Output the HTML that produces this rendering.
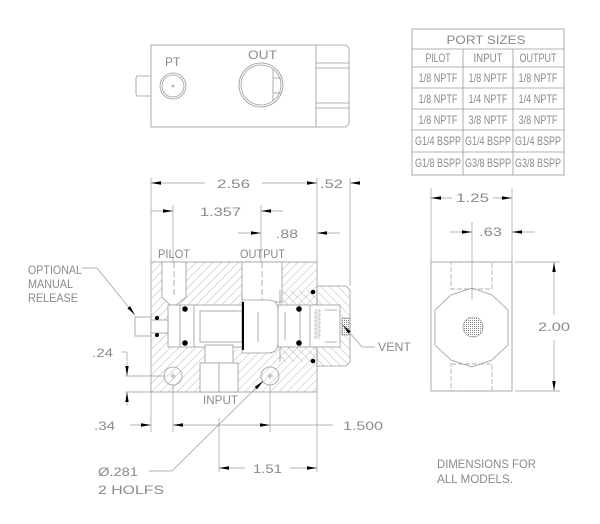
<!DOCTYPE html>
<html><head><meta charset="utf-8"><style>
html,body{margin:0;padding:0;background:#fff;}
svg{display:block;}
text{font-family:"Liberation Sans",sans-serif;fill:#8a8a8a;font-size:12px;}
</style></head><body>
<svg width="600" height="524" viewBox="0 0 600 524" xmlns="http://www.w3.org/2000/svg">
<defs>
<pattern id="h1" width="6" height="6" patternUnits="userSpaceOnUse" patternTransform="rotate(45)">
<line x1="0" y1="0" x2="0" y2="6" stroke="#9a9a9a" stroke-width="0.7"/></pattern>
<pattern id="h2" width="6" height="6" patternUnits="userSpaceOnUse" patternTransform="rotate(-45)">
<line x1="0" y1="0" x2="0" y2="6" stroke="#9a9a9a" stroke-width="0.7"/></pattern>
<pattern id="mesh" width="2" height="2" patternUnits="userSpaceOnUse">
<rect width="1" height="1" fill="#888"/></pattern>
<marker id="a" viewBox="0 0 10 4" refX="10" refY="2" markerWidth="11" markerHeight="4" markerUnits="userSpaceOnUse" orient="auto-start-reverse"><path d="M0,0.3 L10,2 L0,3.7Z" fill="#000"/></marker>
</defs>
<g fill="none" stroke="#9a9a9a" stroke-width="0.8">
<rect x="151" y="45" width="165" height="82"/>
<path d="M316,45 H346 L349,48 V124 L346,127 H316"/>
<line x1="316" y1="63" x2="349" y2="63"/><line x1="316" y1="68" x2="349" y2="68"/>
<line x1="316" y1="103" x2="349" y2="103"/><line x1="316" y1="108" x2="349" y2="108"/>
<path d="M151,76 H137 L136,78 V94 L137,96 H151"/>
<circle cx="173" cy="86" r="13"/><circle cx="173" cy="86" r="11"/><circle cx="173" cy="86" r="1"/>
<circle cx="261" cy="85" r="22"/><circle cx="261" cy="85" r="20"/>
<line x1="273" y1="69" x2="273" y2="101"/><line x1="273" y1="78" x2="281" y2="78"/><line x1="273" y1="93" x2="281" y2="93"/>
<rect x="412" y="29" width="152" height="146"/>
<line x1="412" y1="49" x2="564" y2="49"/><line x1="412" y1="67" x2="564" y2="67"/>
<line x1="412" y1="88" x2="564" y2="88"/><line x1="412" y1="109" x2="564" y2="109"/>
<line x1="412" y1="130" x2="564" y2="130"/><line x1="412" y1="152" x2="564" y2="152"/>
<line x1="463" y1="49" x2="463" y2="175"/><line x1="513" y1="49" x2="513" y2="175"/>
</g>
<g font-size="8" text-anchor="middle" lengthAdjust="spacingAndGlyphs">
<text x="486" y="44" font-size="11" textLength="79" lengthAdjust="spacingAndGlyphs">PORT SIZES</text>
<text x="438" y="62" textLength="25" lengthAdjust="spacingAndGlyphs">PILOT</text><text x="488" y="62" textLength="29" lengthAdjust="spacingAndGlyphs">INPUT</text><text x="538" y="62" textLength="37" lengthAdjust="spacingAndGlyphs">OUTPUT</text>
<text x="438" y="82" textLength="39" lengthAdjust="spacingAndGlyphs">1/8 NPTF</text><text x="488" y="82" textLength="39" lengthAdjust="spacingAndGlyphs">1/8 NPTF</text><text x="538" y="82" textLength="39" lengthAdjust="spacingAndGlyphs">1/8 NPTF</text>
<text x="438" y="103" textLength="39" lengthAdjust="spacingAndGlyphs">1/8 NPTF</text><text x="488" y="103" textLength="39" lengthAdjust="spacingAndGlyphs">1/4 NPTF</text><text x="538" y="103" textLength="39" lengthAdjust="spacingAndGlyphs">1/4 NPTF</text>
<text x="438" y="124" textLength="39" lengthAdjust="spacingAndGlyphs">1/8 NPTF</text><text x="488" y="124" textLength="39" lengthAdjust="spacingAndGlyphs">3/8 NPTF</text><text x="538" y="124" textLength="39" lengthAdjust="spacingAndGlyphs">3/8 NPTF</text>
<text x="438" y="145" textLength="46" lengthAdjust="spacingAndGlyphs">G1/4 BSPP</text><text x="488" y="145" textLength="46" lengthAdjust="spacingAndGlyphs">G1/4 BSPP</text><text x="538" y="145" textLength="46" lengthAdjust="spacingAndGlyphs">G1/4 BSPP</text>
<text x="438" y="167" textLength="46" lengthAdjust="spacingAndGlyphs">G1/8 BSPP</text><text x="488" y="167" textLength="46" lengthAdjust="spacingAndGlyphs">G3/8 BSPP</text><text x="538" y="167" textLength="46" lengthAdjust="spacingAndGlyphs">G3/8 BSPP</text>
</g>
<text x="165" y="66">PT</text><text x="248" y="59" textLength="29" lengthAdjust="spacingAndGlyphs">OUT</text>

<rect x="151" y="262" width="166" height="130" fill="url(#h1)" stroke="#9a9a9a" stroke-width="0.8"/>
<path d="M317,286 H346 L350,290 V362 L346,366 H317Z" fill="url(#h2)" stroke="#9a9a9a" stroke-width="0.8"/>
<path d="M280,290 H317 V305 H280Z M280,347 H317 V362 H280Z" fill="url(#h2)" stroke="none"/>
<g fill="#fff" stroke="#9a9a9a" stroke-width="0.8">
<path d="M162,262 H186 V297 L176,305 H170 L162,297Z"/>
<rect x="168" y="305" width="75" height="42"/>
<rect x="242" y="262" width="40" height="40"/>
<path d="M242,300 H268 Q278,300 278,310 V342 Q278,353 268,353 H242Z"/>
<rect x="278" y="305" width="62" height="42"/>
<rect x="205" y="345" width="28" height="20"/>
<rect x="200" y="363" width="38" height="29"/>
<rect x="135" y="317" width="16" height="19"/>
<rect x="151" y="320" width="17" height="13"/>
</g>
<g fill="none" stroke="#9a9a9a" stroke-width="0.8">
<line x1="174" y1="262" x2="174" y2="297" stroke-dasharray="6 3"/>
<line x1="262" y1="262" x2="262" y2="300" stroke-dasharray="6 3"/>
<line x1="219" y1="363" x2="219" y2="392"/>
<line x1="180" y1="305" x2="180" y2="347"/><line x1="194" y1="305" x2="194" y2="347"/>
<rect x="200" y="311" width="42" height="31"/>
<line x1="258" y1="312" x2="258" y2="342"/>
<line x1="300" y1="305" x2="300" y2="347"/><line x1="310" y1="305" x2="310" y2="347"/>
<path d="M315,310 h5 v2 h-5 v2 h5 v2 h-5 v2 h5 v2 h-5 v2 h5 v2 h-5 v2 h5 v2 h-5 v2 h5 v2 h-5 v2 h5 v2 h-5 v2 h5" stroke-width="0.6"/>
<path d="M325,310 h12 M325,342 h12"/>
<line x1="285" y1="312" x2="285" y2="340"/>
<line x1="280" y1="290" x2="280" y2="305"/><line x1="280" y1="347" x2="280" y2="362"/>
<circle cx="173" cy="376" r="9"/><circle cx="270" cy="376" r="9"/>
<line x1="170" y1="376" x2="176" y2="376"/><line x1="173" y1="373" x2="173" y2="379"/>
<line x1="267" y1="376" x2="273" y2="376"/><line x1="270" y1="373" x2="270" y2="379"/>
</g>
<line x1="243" y1="302" x2="243" y2="350" stroke="#000" stroke-width="2"/>
<rect x="342" y="318" width="8" height="17" fill="url(#mesh)" stroke="#888" stroke-width="0.6"/>
<g fill="#000">
<circle cx="185" cy="309" r="2.8"/><circle cx="185" cy="343" r="2.8"/>
<circle cx="299" cy="309" r="2.8"/><circle cx="299" cy="343" r="2.8"/>
<circle cx="313" cy="292" r="2.3"/><circle cx="313" cy="361" r="2.3"/>
<circle cx="157" cy="318" r="2"/><circle cx="157" cy="335" r="2"/>
</g>

<g fill="none" stroke="#9a9a9a" stroke-width="0.7">
<line x1="151" y1="178" x2="151" y2="262"/><line x1="317" y1="178" x2="317" y2="262"/>
<line x1="350" y1="178" x2="350" y2="286"/>
<line x1="173" y1="205" x2="173" y2="262"/><line x1="261" y1="205" x2="261" y2="262"/>
<line x1="151" y1="392" x2="151" y2="432"/>
<line x1="173" y1="385" x2="173" y2="432"/><line x1="270" y1="385" x2="270" y2="432"/>
<line x1="317" y1="392" x2="317" y2="472"/><line x1="219" y1="418" x2="219" y2="472"/>
<line x1="125" y1="376" x2="165" y2="376"/><line x1="125" y1="392" x2="151" y2="392"/>
<line x1="127" y1="352" x2="127" y2="361"/><line x1="122" y1="352" x2="127" y2="352"/>
</g>
<g stroke="#9a9a9a" stroke-width="0.7" fill="none">
<line x1="205" y1="183" x2="151" y2="183" marker-end="url(#a)"/>
<line x1="262" y1="183" x2="317" y2="183" marker-end="url(#a)"/>
<line x1="360" y1="183" x2="350" y2="183" marker-end="url(#a)"/>
<line x1="151" y1="211" x2="173" y2="211" marker-end="url(#a)"/>
<line x1="283" y1="211" x2="261" y2="211" marker-end="url(#a)"/>
<line x1="238" y1="233" x2="261" y2="233" marker-end="url(#a)"/>
<line x1="340" y1="233" x2="317" y2="233" marker-end="url(#a)"/>
<line x1="127" y1="362" x2="127" y2="376" marker-end="url(#a)"/>
<line x1="127" y1="406" x2="127" y2="392" marker-end="url(#a)"/>
<line x1="130" y1="425" x2="151" y2="425" marker-end="url(#a)"/>
<line x1="195" y1="425" x2="173" y2="425" marker-end="url(#a)"/>
<line x1="195" y1="425" x2="270" y2="425" marker-end="url(#a)"/>
<line x1="270" y1="425" x2="333" y2="425"/>
<line x1="245" y1="468" x2="219" y2="468" marker-end="url(#a)"/>
<line x1="290" y1="468" x2="317" y2="468" marker-end="url(#a)"/>
<polyline points="149,471 172,471 263,381" marker-end="url(#a)"/>
<polyline points="82,268 97,268 135,315" marker-end="url(#a)"/>
<polyline points="375,347 362,347 343,325" marker-end="url(#a)"/>
<line x1="431" y1="188" x2="431" y2="262"/><line x1="512" y1="188" x2="512" y2="262"/>
<line x1="472" y1="222" x2="472" y2="300"/>
<line x1="452" y1="198" x2="431" y2="198" marker-end="url(#a)"/>
<line x1="493" y1="198" x2="512" y2="198" marker-end="url(#a)"/>
<line x1="450" y1="232" x2="472" y2="232" marker-end="url(#a)"/>
<line x1="535" y1="232" x2="512" y2="232" marker-end="url(#a)"/>
<line x1="515" y1="262" x2="560" y2="262"/><line x1="515" y1="391" x2="560" y2="391"/>
<line x1="554" y1="315" x2="554" y2="262" marker-end="url(#a)"/>
<line x1="554" y1="340" x2="554" y2="391" marker-end="url(#a)"/>
<rect x="431" y="262" width="81" height="129" stroke-width="0.8"/>
<polygon points="451,295 472,288 492,295 508,310 508,345 492,360 472,367 451,360 435,345 435,310" stroke-width="0.8"/>
<rect x="451" y="262" width="41" height="27" stroke-dasharray="5 2"/>
<rect x="451" y="364" width="41" height="27" stroke-dasharray="5 2"/>
</g>
<circle cx="473" cy="327" r="10" fill="url(#mesh)" stroke="#888" stroke-width="0.6"/>

<g font-size="13">
<text x="217" y="188" textLength="33" lengthAdjust="spacingAndGlyphs">2.56</text>
<text x="320" y="188" textLength="23" lengthAdjust="spacingAndGlyphs">.52</text>
<text x="200" y="216" textLength="41" lengthAdjust="spacingAndGlyphs">1.357</text>
<text x="276" y="238" textLength="22" lengthAdjust="spacingAndGlyphs">.88</text>
<text x="92" y="357" textLength="21" lengthAdjust="spacingAndGlyphs">.24</text>
<text x="94" y="430" textLength="21" lengthAdjust="spacingAndGlyphs">.34</text>
<text x="343" y="430" textLength="40" lengthAdjust="spacingAndGlyphs">1.500</text>
<text x="253" y="473" textLength="29" lengthAdjust="spacingAndGlyphs">1.51</text>
<text x="456" y="202" textLength="33" lengthAdjust="spacingAndGlyphs">1.25</text>
<text x="479" y="236" textLength="23" lengthAdjust="spacingAndGlyphs">.63</text>
<text x="538" y="331" textLength="32" lengthAdjust="spacingAndGlyphs">2.00</text>
<text x="98" y="476" textLength="40" lengthAdjust="spacingAndGlyphs">Ø.281</text>
<text x="98" y="494" textLength="66" lengthAdjust="spacingAndGlyphs">2 HOLFS</text>
</g>
<text x="158" y="258" textLength="32" lengthAdjust="spacingAndGlyphs">PILOT</text>
<text x="240" y="258" textLength="45" lengthAdjust="spacingAndGlyphs">OUTPUT</text>
<text x="28" y="274" textLength="54" lengthAdjust="spacingAndGlyphs">OPTIONAL</text>
<text x="28" y="288" textLength="45" lengthAdjust="spacingAndGlyphs">MANUAL</text>
<text x="28" y="302" textLength="50" lengthAdjust="spacingAndGlyphs">RELEASE</text>
<text x="203" y="404" textLength="35" lengthAdjust="spacingAndGlyphs">INPUT</text>
<text x="378" y="351" textLength="33" lengthAdjust="spacingAndGlyphs">VENT</text>
<text x="437" y="468" textLength="99" lengthAdjust="spacingAndGlyphs">DIMENSIONS FOR</text>
<text x="437" y="483" textLength="76" lengthAdjust="spacingAndGlyphs">ALL MODELS.</text>
</svg>
</body></html>
